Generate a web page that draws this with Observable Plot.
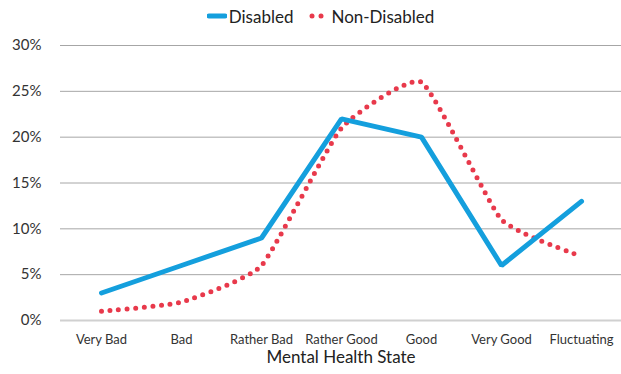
<!DOCTYPE html>
<html><head><meta charset="utf-8">
<script src="https://cdn.jsdelivr.net/npm/d3@7"></script>
<script src="https://cdn.jsdelivr.net/npm/@observablehq/plot@0.6"></script>
<style>
body{margin:0;background:#fff;font-family:"Source Sans Pro","Lato","Noto Sans",sans-serif;}
#legend{height:32px;display:flex;justify-content:center;align-items:center;gap:14px;font-size:17px;color:#222;padding-left:20px;}
.item{display:flex;align-items:center;gap:2px;}
</style></head><body>
<div id="legend">
  <div class="item"><svg width="20" height="10"><line x1="2" y1="5" x2="18" y2="5" stroke="#149fdd" stroke-width="5" stroke-linecap="round"/></svg><span>Disabled</span></div>
  <div class="item"><svg width="22" height="10"><circle cx="5" cy="5" r="2.5" fill="#e8394b"/><circle cx="14" cy="5" r="2.5" fill="#e8394b"/></svg><span>Non-Disabled</span></div>
</div>
<div id="chart"></div>
<script>
const categories = ["Very Bad","Bad","Rather Bad","Rather Good","Good","Very Good","Fluctuating"];
const disabled = [3,6,9,22,20,6,13];
const nonDisabled = [1,2,6,21,26,11,7];
const yTicks = [0,5,10,15,20,25,30];

const dDis = categories.map((c,i)=>({cat:c, v:disabled[i]/100}));
const dNon = categories.map((c,i)=>({cat:c, v:nonDisabled[i]/100}));

const chart = Plot.plot({
  width: 621,
  height: 342,
  marginLeft: 60,
  marginRight: 0,
  marginTop: 13,
  marginBottom: 54,
  style: {fontFamily: "'Source Sans Pro', Lato, 'Noto Sans', sans-serif", background:"#fff"},
  x: {type:"point", domain: categories, padding: 0.5, label: null},
  y: {domain:[0,0.3], label:null},
  marks: [
    Plot.ruleY(yTicks.filter(t=>t>0).map(t=>t/100), {stroke:"#a6a6a6", strokeWidth:1}),
    Plot.ruleY([0], {stroke:"#d0d0d0", strokeWidth:2}),
    Plot.axisY(yTicks.map(t=>t/100), {tickFormat: d=>Math.round(d*100)+"%", tickSize:0, tickPadding:19, fontSize:15, fill:"#333", label:null}),
    Plot.axisX(categories, {tickSize:0, tickPadding:14, fontSize:13, fill:"#333", label:null}),
    Plot.text(["Mental Health State"], {frameAnchor:"bottom", dy:42, fontSize:17, fill:"#222"}),
    Plot.line(dNon, {x:"cat", y:"v", curve:"cardinal", tension:0.55, stroke:"#e8394b", strokeWidth:5, strokeDasharray:"0,8.6", strokeLinecap:"round"}),
    Plot.line(dDis, {x:"cat", y:"v", stroke:"#149fdd", strokeWidth:5, strokeLinejoin:"miter", strokeLinecap:"round"})
  ]
});
document.getElementById("chart").appendChild(chart);
</script>
</body></html>
